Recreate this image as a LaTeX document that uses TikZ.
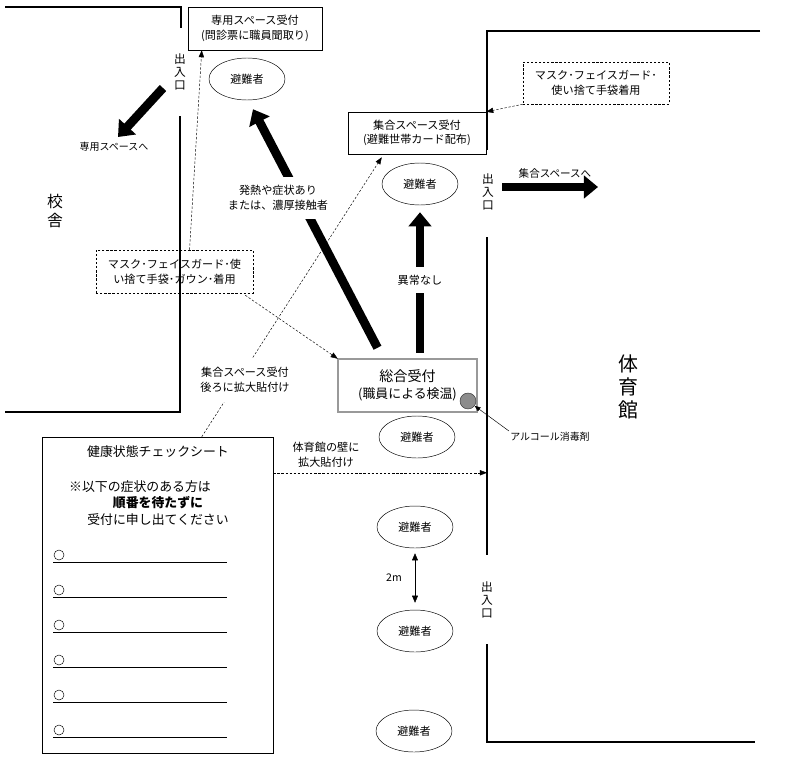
\documentclass[tikz,border=0pt]{standalone}
\usepackage{fontspec}
\setmainfont{Noto Sans CJK JP}
\usetikzlibrary{arrows.meta, shapes.geometric, positioning, calc}

\begin{document}
\begin{tikzpicture}[x=0.03cm, y=-0.03cm,
        box/.style={draw, align=center, inner sep=0, font=\fontsize{9.5}{12.5}\selectfont},
        dbox/.style={box, dash pattern=on 2pt off 1.5pt},
        guest/.style={ellipse, draw, minimum width=2.28cm, minimum height=1.26cm, inner sep=0, font=\fontsize{9.5}{11}\selectfont},
        lbl/.style={align=center, inner sep=1pt, font=\fontsize{9.5}{12.5}\selectfont},
        vt/.style={align=center, inner sep=0, font=\fontsize{10}{11}\selectfont},
        e/.style={line width=7.5pt, -{Triangle[length=12pt, width=19pt]}},
        d/.style={dash pattern=on 2pt off 1.5pt, -{Triangle[length=6pt, width=4.5pt]}},
        wall/.style={line width=1pt}]
        \useasboundingbox (0,0) rectangle (797,757);

        % walls of the school and the gym
        \draw[wall] (5,7) -- (181,7) -- (181,28);
        \draw[wall] (180,116) -- (180,412) -- (5,412);
        \draw[wall] (760,31) -| (487,150);
        \draw[wall] (487,237) -- (487,555);
        \draw[wall] (487,644) -- (487,742) -- (755,742);
        \coordinate (gym wall) at (487,31);

        \node[vt, font=\fontsize{13.5}{15.5}\selectfont] (school) at (55,211) {校\\舎};
        \node[vt, font=\fontsize{17}{19.5}\selectfont] (gym) at (628,387) {体\\育\\館};
        \node[vt] (ent1) at (180,72) {出\\入\\口};
        \node[vt] (ent2) at (488,192) {出\\入\\口};
        \node[vt] (ent3) at (487,600) {出\\入\\口};

        % reception desks
        \node[box, minimum width=4.02cm, minimum height=1.29cm] (sen) at (255,28.5) {専用スペース受付\\(問診票に職員聞取り)};
        \node[box, minimum width=4.14cm, minimum height=1.26cm] (shu) at (417,133) {集合スペース受付\\(避難世帯カード配布)};
        \node[box, draw=black!85, double=black!40, double distance=1.2pt, minimum width=4.17cm, minimum height=1.59cm,
              font=\fontsize{11}{14}\selectfont] (sogo) at (407.5,385.5) {{\fontsize{12}{14}\selectfont 総合受付}\\(職員による検温)};
        \node[dbox, minimum width=4.71cm, minimum height=1.29cm] (mask1) at (174.5,271.5) {マスク･フェイスガード･使\\い捨て手袋･ガウン･着用};
        \node[dbox, minimum width=4.38cm, minimum height=1.26cm] (mask2) at (596,83) {マスク･フェイスガード･\\使い捨て手袋着用};

        \foreach \n/\x/\y in {1/247/79, 2/420/184, 3/417/437, 4/415/527, 5/415/631, 6/414/731}
        \node[guest] (g\n) at (\x,\y) {避難者};

        \node[circle, draw=black!80, fill=black!45, minimum size=0.48cm, inner sep=0] (alc) at (468,401) {};
        \node[lbl, font=\fontsize{8.5}{10}\selectfont] (alclbl) at (550,437) {アルコール消毒剤};
        \draw[-{Triangle[length=5pt, width=4pt]}] (alclbl.north west) -- (alc);

        % check sheet
        \node[draw, minimum width=6.93cm, minimum height=9.48cm, inner sep=0] (sheet) at (157.5,595) {};
        \node[lbl, font=\fontsize{11}{13}\selectfont] (title) at (158,452) {健康状態チェックシート};
        \node[lbl, font=\fontsize{11}{13}\selectfont] (note1) at (140,487) {※以下の症状のある方は};
        \node[lbl, font=\fontsize{11}{13}\selectfont\bfseries] (note2) at (158,503) {順番を待たずに};
        \node[lbl, font=\fontsize{11}{13}\selectfont] (note3) at (158,520) {受付に申し出てください};
        \foreach \i in {0,...,5} {
          \node[circle, draw, minimum size=0.3cm, inner sep=0] (o\i) at (59,555+35*\i) {};
          \draw ([shift={(-6,7)}]o\i.center) -- ++(174,0);
        }

        % flows
        \coordinate (t1) at (163,88);
        \node[lbl, font=\fontsize{8.5}{10}\selectfont] (sen2) at (114,147) {専用スペースへ};
        \draw[e] (t1) -- ([shift={(4,-4)}]sen2.north);

        \draw[e] ([shift={(-30,-11)}]sogo.north) -- ([shift={(6,9)}]g1.south);
        \node[lbl, fill=white, inner xsep=2pt, inner ysep=0.25cm] (fever) at (278,198) {発熱や症状あり\\または、濃厚接触者};

        \draw[e] ($(sogo.north -| g2.south)+(0,-6)$) -- ($(g2.south)+(0,7)$);
        \node[lbl, fill=white, inner ysep=0.24cm] (ok) at (420,280) {異常なし};

        \coordinate (t2) at (598,187);
        \draw[e] ([shift={(8,-5)}]ent2.east) -- (t2);
        \node[lbl, font=\fontsize{9}{11}\selectfont] (shu2) at (555,173) {集合スペースへ};

        \draw[d] ([shift={(15,0)}]mask1.north) -- ([shift={(14,0)}]sen.south west);
        \draw[d] ([shift={(-8,2)}]mask1.south east) -- (sogo.north west);
        \draw[d] ([shift={(160,0)}]sheet.north west) -- ([shift={(34,3)}]shu.south west);
        \node[lbl, fill=white, inner ysep=0.3cm] (ato) at (245,380) {集合スペース受付\\後ろに拡大貼付け};
        \draw[d] (mask2.south west) -- (shu.north east);

        \coordinate (s4) at ([shift={(0,36)}]sheet.north east);
        \draw[d] (s4) -- (s4 -| gym wall);
        \node[lbl] (wallnote) at (326,455) {体育館の壁に\\拡大貼付け};

        \draw[{Triangle[length=6pt, width=5pt]}-{Triangle[length=6pt, width=5pt]}] ([shift={(0,5)}]g4.south) -- ([shift={(0,-7)}]g5.north);
        \node[lbl, font=\fontsize{9}{10}\selectfont] (dist) at (394,578) {2m};
      \end{tikzpicture}
\end{document}
